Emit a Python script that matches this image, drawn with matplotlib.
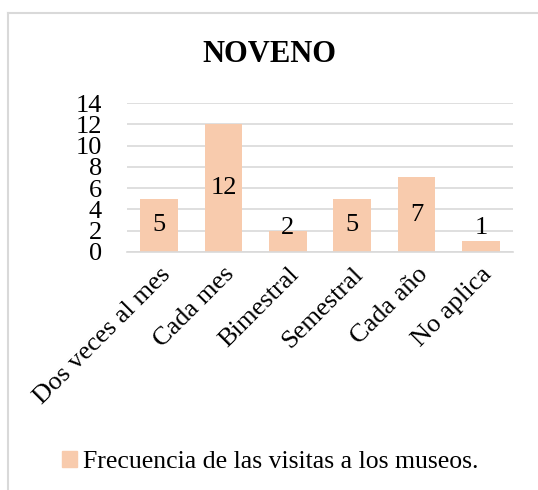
import matplotlib
matplotlib.use('Agg')
import matplotlib.pyplot as plt
from matplotlib.lines import Line2D
from matplotlib.patches import Patch

# Data
categories = ['Dos veces al mes', 'Cada mes', 'Bimestral', 'Semestral', 'Cada año', 'No aplica']
values = [5, 12, 2, 5, 7, 1]
yticks = [0, 2, 4, 6, 8, 10, 12, 14]
title = 'NOVENO'
series_name = 'Frecuencia de las visitas a los museos.'

bar_color = '#F8CBAD'
grid_color = '#D9D9D9'

plt.rcParams['font.family'] = ['Liberation Serif', 'DejaVu Serif']

fig = plt.figure(figsize=(5.38, 4.9), dpi=100)
ax = fig.add_axes([127 / 538, 1 - 252 / 490, (513 - 127) / 538, (252 - 103) / 490])

x = range(len(categories))
ax.bar(x, values, width=0.59, color=bar_color, zorder=2)

# value labels, kept inside the plot like Excel does
for i, v in enumerate(values):
    ax.text(i, max(v / 2, 2.3), str(v), ha='center', va='center', fontsize=19, zorder=3)

ax.set_xlim(-0.5, len(categories) - 0.5)
ax.set_ylim(0, 14)
ax.set_yticks(yticks)
ax.set_yticklabels([str(t) for t in yticks], fontsize=19)
ax.set_xticks(list(x))
ax.set_xticklabels(categories, fontsize=19, rotation=45, ha='right', rotation_mode='anchor')
ax.tick_params(axis='y', length=0, pad=18)
ax.tick_params(axis='x', length=0, pad=8)

ax.yaxis.grid(True, color=grid_color, linewidth=1.2, zorder=0)
for s in ['top', 'right', 'left']:
    ax.spines[s].set_visible(False)
ax.spines['bottom'].set_color(grid_color)
ax.spines['bottom'].set_linewidth(1.2)

fig.text(0.5, 1 - 55 / 490, title, ha='center', va='center', fontsize=22, fontweight='bold')

fig.legend(handles=[Patch(color=bar_color, label=series_name)], loc='center',
           bbox_to_anchor=(270 / 538, 1 - 462 / 490), frameon=False, fontsize=18.5,
           handlelength=0.6, handleheight=0.6, handletextpad=0.2)

# chart border: only top and left edges fall inside the picture
bx, by = 8 / 538, 1 - 13 / 490
fig.add_artist(Line2D([bx, 1], [by, by], transform=fig.transFigure, color=grid_color, lw=1.5))
fig.add_artist(Line2D([bx, bx], [0, by], transform=fig.transFigure, color=grid_color, lw=1.5))

fig.savefig('out.png', dpi=100)
